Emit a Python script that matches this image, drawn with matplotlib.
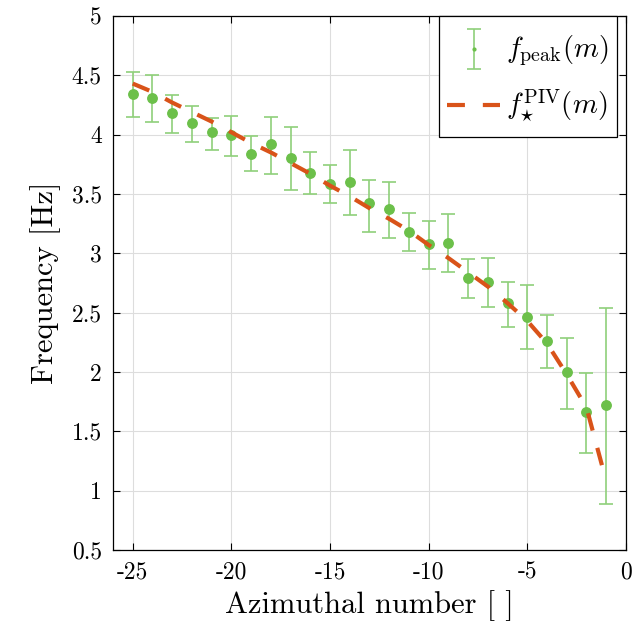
import matplotlib
matplotlib.use("Agg")
import matplotlib.pyplot as plt
import numpy as np
from matplotlib.container import ErrorbarContainer
from matplotlib.lines import Line2D
from matplotlib.legend_handler import HandlerErrorbar, HandlerLine2D
from matplotlib.transforms import Affine2D

plt.rcParams['font.family'] = 'serif'
plt.rcParams['font.serif'] = ['cmr10']
plt.rcParams['mathtext.fontset'] = 'cm'
plt.rcParams['axes.unicode_minus'] = False

# data
m = [-25, -24, -23, -22, -21, -20, -19, -18, -17, -16, -15, -14, -13,
     -12, -11, -10, -9, -8, -7, -6, -5, -4, -3, -2, -1]
f_peak = [4.34, 4.31, 4.18, 4.10, 4.02, 4.00, 3.84, 3.92, 3.80, 3.68, 3.58, 3.60, 3.42,
          3.37, 3.18, 3.08, 3.09, 2.79, 2.76, 2.58, 2.46, 2.26, 2.00, 1.66, 1.72]
err_top = [4.53, 4.50, 4.33, 4.24, 4.14, 4.16, 3.99, 4.15, 4.06, 3.85, 3.74, 3.87, 3.62,
           3.60, 3.34, 3.27, 3.33, 2.95, 2.96, 2.76, 2.73, 2.48, 2.29, 1.99, 2.54]
err_bot = [4.15, 4.11, 4.01, 3.94, 3.87, 3.82, 3.69, 3.67, 3.53, 3.50, 3.42, 3.32, 3.18,
           3.13, 3.02, 2.87, 2.84, 2.62, 2.55, 2.38, 2.19, 2.03, 1.69, 1.32, 0.89]
f_piv = [4.43, 4.36, 4.27, 4.19, 4.11, 4.02, 3.93, 3.85, 3.76, 3.67, 3.57, 3.48, 3.38,
         3.29, 3.19, 3.07, 2.96, 2.84, 2.72, 2.58, 2.43, 2.24, 1.98, 1.70, 1.08]

xticks = [-25, -20, -15, -10, -5, 0]
xticklabels = ['-25', '-20', '-15', '-10', '-5', '0']
yticks = [0.5, 1, 1.5, 2, 2.5, 3, 3.5, 4, 4.5, 5]
yticklabels = ['0.5', '1', '1.5', '2', '2.5', '3', '3.5', '4', '4.5', '5']

green = '#6cc04a'
errgreen = '#8fd07a'
orange = '#d95319'


class ShiftErr(HandlerErrorbar):
    def create_artists(self, legend, orig_handle, xdescent, ydescent, width,
                       height, fontsize, trans):
        trans = Affine2D().translate(0, -0.28 * fontsize) + trans
        return super().create_artists(legend, orig_handle, xdescent, ydescent,
                                      width, height, fontsize, trans)


class ShiftLine(HandlerLine2D):
    def create_artists(self, legend, orig_handle, xdescent, ydescent, width,
                       height, fontsize, trans):
        trans = Affine2D().translate(0, -0.28 * fontsize) + trans
        return super().create_artists(legend, orig_handle, xdescent, ydescent,
                                      width, height, fontsize, trans)


fig = plt.figure(figsize=(6.42, 6.37), dpi=100)
ax = fig.add_axes([0.176, 0.1366, 0.799, 0.8384])

mm = np.array(m)
fp = np.array(f_peak)
lower = fp - np.array(err_bot)
upper = np.array(err_top) - fp

eb = ax.errorbar(mm, fp, yerr=[lower, upper], fmt='.', ms=4, color=green,
                 ecolor=errgreen, elinewidth=1.2, capsize=4.7, capthick=1.2,
                 markeredgecolor=green, label=r'$f_{\mathrm{peak}}(m)$', zorder=3)
ax.plot(mm, fp, 'o', ms=6.8, color=green, markeredgecolor=green, zorder=4)
ln, = ax.plot(mm, f_piv, linestyle=(0, (4.3, 4.3)), lw=3.0, color=orange,
              label=r'$f_{\star}^{\mathrm{PIV}}(m)$', zorder=5)

ax.set_xlim(-26, 0)
ax.set_ylim(0.5, 5)
ax.set_xticks(xticks)
ax.set_xticklabels(xticklabels)
ax.set_yticks(yticks)
ax.set_yticklabels(yticklabels)
ax.tick_params(direction='in', top=True, right=True, labelsize=17, length=5,
               width=0.8, pad=8)
ax.grid(True, color='#dddddd', lw=0.8)
ax.set_axisbelow(True)
for s in ax.spines.values():
    s.set_linewidth(0.9)

ax.set_xlabel('Azimuthal number [ ]', fontsize=22, labelpad=5)
ax.set_ylabel('Frequency [Hz]', fontsize=22, labelpad=8)

leg = ax.legend([eb, ln], [eb.get_label(), ln.get_label()],
                handler_map={ErrorbarContainer: ShiftErr(yerr_size=0.7),
                             Line2D: ShiftLine()},
                loc='upper right', bbox_to_anchor=(0.982, 1.0), fontsize=20.5,
                fancybox=False, framealpha=1, edgecolor='black',
                borderaxespad=0.0, handlelength=1.85, handleheight=2.17,
                handletextpad=0.2, labelspacing=0.34, borderpad=0.3)
leg.get_frame().set_linewidth(0.9)

fig.savefig('out.png', dpi=100)
